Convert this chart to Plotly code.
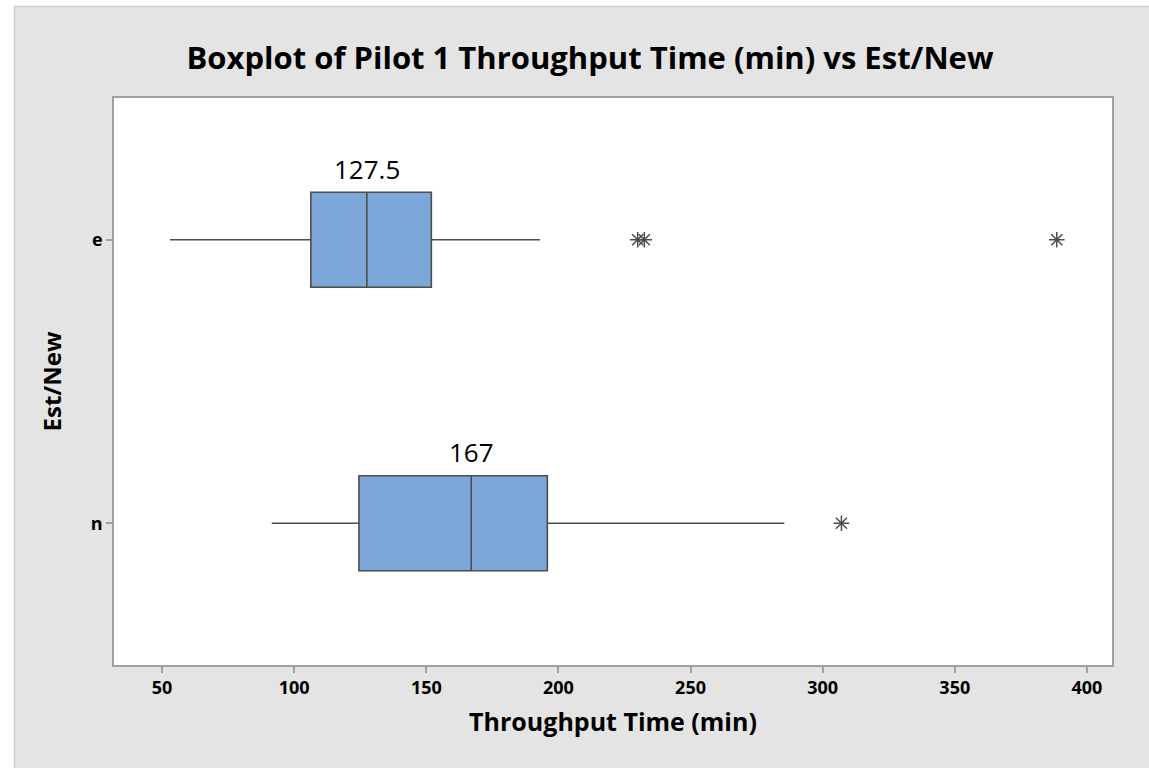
import plotly.graph_objects as go

# ---- data ----
groups = ["e", "n"]
q1_vals = [106.3, 124.5]
median_vals = [127.5, 167.0]
q3_vals = [151.9, 195.8]
low_whisker = [53.0, 91.5]
high_whisker = [193.0, 285.5]
outliers_e = [230.0, 232.5, 388.6]
outliers_n = [307.1]
median_labels = ["127.5", "167"]
x_ticks = [50, 100, 150, 200, 250, 300, 350, 400]

BOX_FILL = "#7da7d9"
LINE = "#4d4d4d"
FONT = "Open Sans"

fig = go.Figure()
fig.add_trace(go.Box(
    y=groups,
    q1=q1_vals, median=median_vals, q3=q3_vals,
    lowerfence=low_whisker, upperfence=high_whisker,
    orientation="h",
    fillcolor=BOX_FILL,
    line=dict(color=LINE, width=1.6),
    whiskerwidth=0,
    width=0.335,
    boxpoints=False,
    hoverinfo="skip",
    showlegend=False,
))

for vals, g in ((outliers_e, "e"), (outliers_n, "n")):
    fig.add_trace(go.Scatter(
        x=vals, y=[g] * len(vals), mode="markers",
        marker=dict(symbol="asterisk-open", size=13, color=LINE, line=dict(color=LINE, width=1.5)),
        showlegend=False, hoverinfo="skip",
    ))

annotations = []
for m, g, lab in zip(median_vals, groups, median_labels):
    annotations.append(dict(
        x=m, y=g, xref="x", yref="y", text=lab, showarrow=False,
        yshift=71, font=dict(family=FONT, size=26, color="#000000"),
    ))

L, R, T, B = 114, 37, 98, 103
W, H = 1149, 768
pw = W - L - R
ph = H - T - B

def px_x(px):
    return (px - L) / pw

def px_y(py):
    return (H - B - py) / ph

shapes = [
    dict(type="rect", xref="paper", yref="paper", x0=px_x(0), x1=px_x(W), y0=px_y(6), y1=px_y(0),
         fillcolor="white", line=dict(width=0), layer="below"),
    dict(type="rect", xref="paper", yref="paper", x0=px_x(0), x1=px_x(14), y0=px_y(H), y1=px_y(0),
         fillcolor="white", line=dict(width=0), layer="below"),
    dict(type="line", xref="paper", yref="paper", x0=px_x(14.5), x1=px_x(W), y0=px_y(6.5), y1=px_y(6.5),
         line=dict(color="#cfcfcf", width=1.5), layer="below"),
    dict(type="line", xref="paper", yref="paper", x0=px_x(14.5), x1=px_x(14.5), y0=px_y(H), y1=px_y(6.5),
         line=dict(color="#cfcfcf", width=1.5), layer="below"),
]

fig.update_layout(
    width=W, height=H,
    margin=dict(l=L, r=R, t=T, b=B),
    paper_bgcolor="#e4e4e4",
    plot_bgcolor="white",
    shapes=shapes,
    annotations=annotations,
    font=dict(family=FONT, color="#000000"),
    title=dict(
        text="<b>Boxplot of Pilot 1 Throughput Time (min) vs Est/New</b>",
        x=590 / W, xanchor="center", xref="container",
        y=1 - 58 / H, yanchor="middle", yref="container",
        font=dict(family=FONT, size=31, color="#000000"),
    ),
    xaxis=dict(
        range=[31.8, 409.5],
        tickmode="array", tickvals=x_ticks, ticktext=[f"<b>{v}</b>" for v in x_ticks],
        ticks="outside", ticklen=6, tickcolor="#a0a0a0", tickwidth=1.5,
        showgrid=False, zeroline=False,
        showline=True, linecolor="#a0a0a0", linewidth=1.5, mirror=True,
        tickfont=dict(family=FONT, size=18, color="#000000"),
        title=dict(text="<b>Throughput Time (min)</b>", font=dict(family=FONT, size=25), standoff=15),
    ),
    yaxis=dict(
        type="category", categoryorder="array", categoryarray=["n", "e"],
        range=[-0.5, 1.5],
        tickmode="array", tickvals=groups, ticktext=[f"<b>{g}</b>" for g in groups],
        ticks="outside", ticklen=6, tickcolor="#a0a0a0", tickwidth=1.5,
        showgrid=False, zeroline=False,
        showline=True, linecolor="#a0a0a0", linewidth=1.5, mirror=True,
        tickfont=dict(family=FONT, size=18, color="#000000"),
        title=dict(text="<b>Est/New</b>", font=dict(family=FONT, size=24), standoff=22),
    ),
)

fig.write_html(
    "out.html",
    config={"displayModeBar": False},
    post_script="document.body.style.margin='0';document.body.style.overflow='hidden';",
)
